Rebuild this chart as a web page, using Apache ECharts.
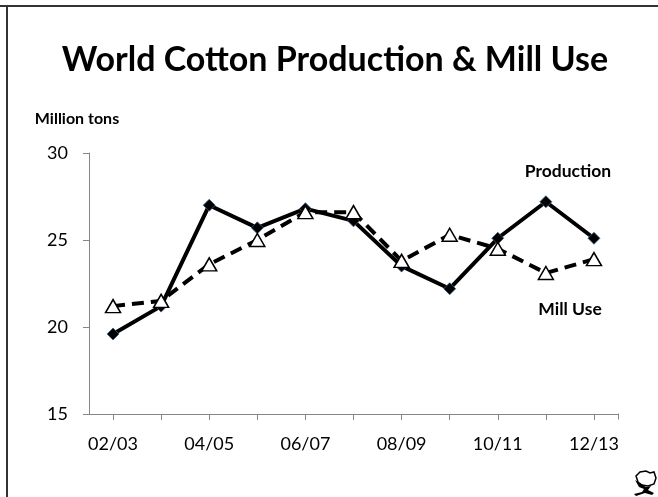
<!DOCTYPE html>
<html><head><meta charset="utf-8">
<script src="https://cdn.jsdelivr.net/npm/echarts@6/dist/echarts.min.js"></script>
<style>html,body{margin:0;padding:0;background:#fff}#c{width:658px;height:497px}</style>
</head><body><div id="c"></div>
<script>
const categories = ['02/03','03/04','04/05','05/06','06/07','07/08','08/09','09/10','10/11','11/12','12/13'];
const production = [19.6, 21.2, 27.0, 25.7, 26.8, 26.1, 23.5, 22.2, 25.1, 27.2, 25.1];
const millUse    = [21.2, 21.5, 23.6, 25.0, 26.6, 26.6, 23.8, 25.3, 24.5, 23.1, 23.9];
const yTicks = [15, 20, 25, 30];

const FONT = 'Lato';
const chart = echarts.init(document.getElementById('c'), null, {renderer:'canvas'});
function label(text, x, y, size, weight) {
  return {type:'text', x: x, y: y, style:{text: text, fontFamily: FONT, fontWeight: weight || 'bold', fontSize: size, fill:'#000', textAlign:'center', textVerticalAlign:'middle'}};
}
chart.setOption({
  backgroundColor: '#fff',
  animation: false,
  graphic: [
    {type:'line', shape:{x1:0,y1:6,x2:658,y2:6}, style:{stroke:'#333',lineWidth:2}},
    {type:'line', shape:{x1:7,y1:6,x2:7,y2:497}, style:{stroke:'#333',lineWidth:2}},
    label('World Cotton Production & Mill Use', 335, 60, 34),
    label('Million tons', 77, 119, 16),
    label('Production', 568, 171, 17.5),
    label('Mill Use', 570, 309, 17.5),
    {type:'line', shape:{x1:618.5,y1:413.5,x2:618.5,y2:419.5}, style:{stroke:'#868686',lineWidth:1}},
    {type:'group', x: 632, y: 470, children: [
      {type:'polygon', shape:{points:[[4,6],[8,2],[14,1],[18,3],[22,2],[24,8],[22,14],[16,16],[10,15],[6,12]]}, style:{fill:'#fff', stroke:'#000', lineWidth:1.5}},
      {type:'polygon', shape:{points:[[3,10],[7,17],[12,19],[10,22],[2,24],[4,26],[13,23],[20,25],[22,23],[16,20],[19,16],[14,17],[9,14]]}, style:{fill:'#000'}}
    ]}
  ],
  grid: {left: 89, right: 40, top: 153, bottom: 83, containLabel: false},
  xAxis: {
    type: 'category', data: categories, boundaryGap: true,
    axisLine: {lineStyle: {color: '#868686', width: 1}},
    axisTick: {show: true, alignWithLabel: true, interval: 0, length: 6, lineStyle:{color:'#868686'}},
    axisLabel: {interval: 1, fontFamily: FONT, fontSize: 18, color: '#000', margin: 21}
  },
  yAxis: {
    type: 'value', min: yTicks[0], max: yTicks[yTicks.length-1], interval: 5,
    splitLine: {show: false},
    axisLine: {show: true, lineStyle: {color: '#868686', width: 1}},
    axisTick: {show: true, length: 6, lineStyle:{color:'#868686'}},
    axisLabel: {fontFamily: FONT, fontSize: 18, color: '#000', margin: 21}
  },
  series: [
    {
      name: 'Production', type: 'line', data: production,
      symbol: 'diamond', symbolSize: 12,
      lineStyle: {color: '#000', width: 4},
      itemStyle: {color: '#000', borderColor: '#3a5f8a', borderWidth: 0.8},
      z: 3
    },
    {
      name: 'Mill Use', type: 'line', data: millUse,
      symbol: 'triangle', symbolSize: [15, 13],
      lineStyle: {color: '#000', width: 4, type: [12, 7]},
      itemStyle: {color: '#fff', borderColor: '#000', borderWidth: 1.5},
      z: 4
    }
  ]
});
</script></body></html>
